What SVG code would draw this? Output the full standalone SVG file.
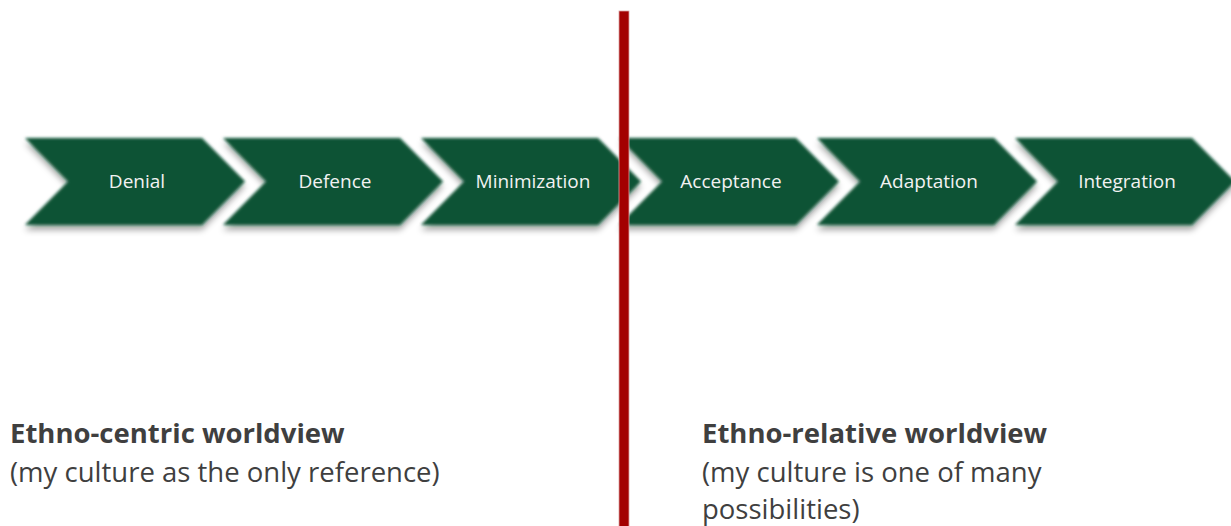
<svg xmlns="http://www.w3.org/2000/svg" width="1231" height="526" viewBox="0 0 1231 526">
  <style>
    .stage-label { font-family: "Open Sans", "Liberation Sans", sans-serif; font-size: 19px; fill: #f2f2f2; text-anchor: middle; }
    .view { font-family: "Open Sans", "Liberation Sans", sans-serif; font-size: 27.5px; fill: #3f3f3f; }
    .view-title { font-weight: bold; }
    .chevron { fill: #0d5234; filter: url(#soft); }
  </style>
  <defs>
    <!-- feathered edges plus a soft shadow below each stage -->
    <filter id="soft" x="-10%" y="-20%" width="120%" height="150%">
      <feGaussianBlur in="SourceAlpha" stdDeviation="3" result="sb"/>
      <feOffset in="sb" dx="0" dy="5" result="so"/>
      <feFlood flood-color="#000" flood-opacity="0.35"/>
      <feComposite in2="so" operator="in" result="shadow"/>
      <feGaussianBlur in="SourceGraphic" stdDeviation="1.6" result="body"/>
      <feMerge>
        <feMergeNode in="shadow"/>
        <feMergeNode in="body"/>
      </feMerge>
    </filter>
    <path id="chev" d="M0,0 L177,0 L220,43.5 L177,87 L0,87 L43,43.5 Z"/>
  </defs>

  <rect width="1231" height="526" fill="#ffffff"/>

  <g id="denial">
    <use href="#chev" class="chevron" x="25" y="138"/>
    <text class="stage-label" x="137" y="188">Denial</text>
  </g>
  <g id="defence">
    <use href="#chev" class="chevron" x="223" y="138"/>
    <text class="stage-label" x="335" y="188">Defence</text>
  </g>
  <g id="minimization">
    <use href="#chev" class="chevron" x="421" y="138"/>
    <text class="stage-label" x="533" y="188">Minimization</text>
  </g>
  <g id="acceptance">
    <use href="#chev" class="chevron" x="619" y="138"/>
    <text class="stage-label" x="731" y="188">Acceptance</text>
  </g>
  <g id="adaptation">
    <use href="#chev" class="chevron" x="817" y="138"/>
    <text class="stage-label" x="929" y="188">Adaptation</text>
  </g>
  <g id="integration">
    <use href="#chev" class="chevron" x="1015" y="138"/>
    <text class="stage-label" x="1127" y="188">Integration</text>
  </g>

  <!-- dividing line between the two worldviews -->
  <g id="divider">
    <rect x="619" y="11" width="10" height="520" fill="#a30000" stroke="#d9a0a0" stroke-width="0.8"/>
  </g>

  <g id="ethnocentric">
    <text class="view view-title" x="10" y="443">Ethno-centric worldview</text>
    <text class="view" x="10" y="482">(my culture as the only reference)</text>
  </g>
  <g id="ethnorelative">
    <text class="view view-title" x="702" y="443">Ethno-relative worldview</text>
    <text class="view" x="702" y="482">(my culture is one of many</text>
    <text class="view" x="702" y="519">possibilities)</text>
  </g>
</svg>
